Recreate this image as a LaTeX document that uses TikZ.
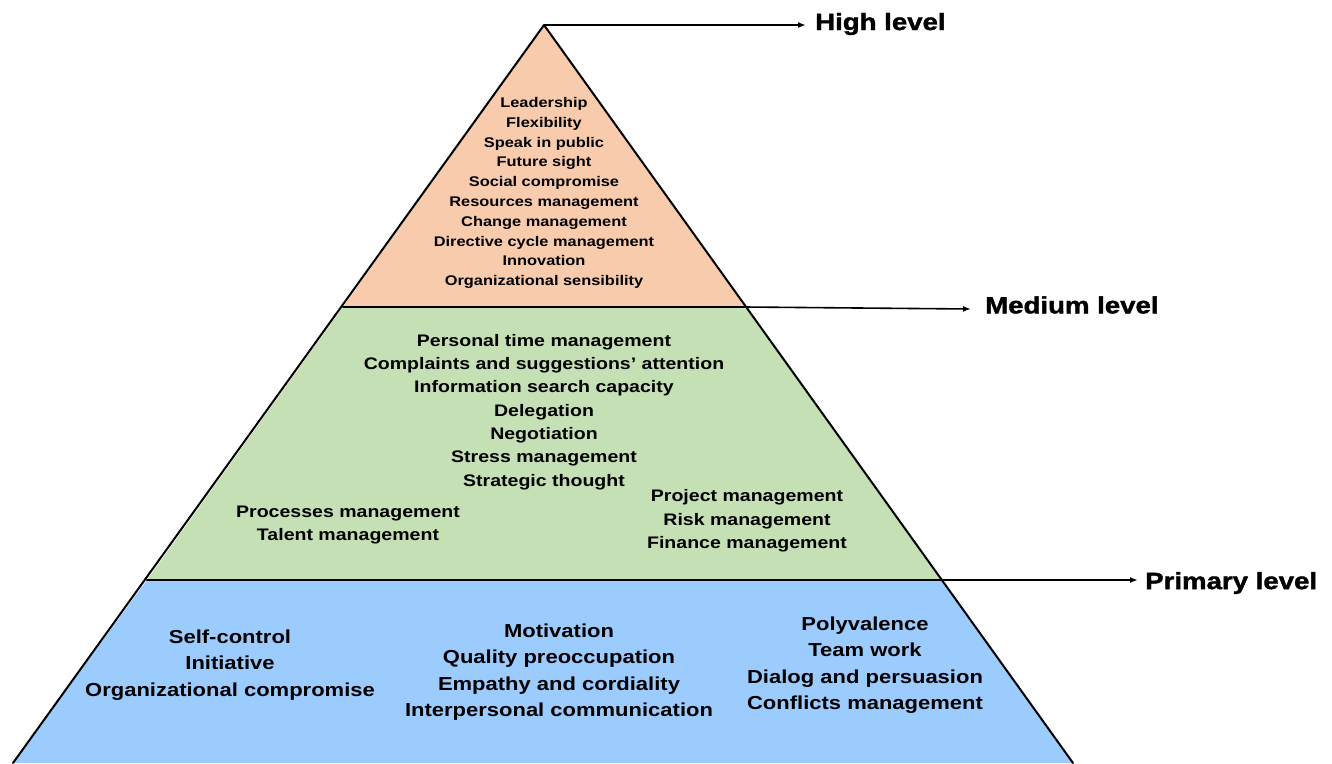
\documentclass[tikz,border=0pt]{standalone}
\usepackage{fontspec}
\setmainfont{Liberation Sans}[FakeStretch=1.17]
\newfontfamily\heavyfont{Liberation Sans Bold}[FakeStretch=1.175,FakeBold=1.6]
\usetikzlibrary{arrows.meta}
\definecolor{peach}{HTML}{F8CBAD}
\definecolor{leaf}{HTML}{C5E0B4}
\definecolor{sky}{HTML}{9CCBFD}
\begin{document}
\begin{tikzpicture}[x=1pt,y=-1pt,
  txt/.style 2 args={font=\bfseries\fontsize{#1}{#2}\selectfont, align=center, inner sep=0pt},
  lvl/.style={font=\heavyfont\fontsize{23.5}{28}\selectfont, anchor=west, inner sep=0pt},
  edge/.style={line width=2pt, line cap=round, line join=round},
  pointer/.style={line width=1.6pt, -{Latex[length=8pt,width=6pt]}}]
\useasboundingbox (0,0) rectangle (1332,763);
% key points
\coordinate (apex) at (544,25);
\coordinate (ml) at (343,307);
\coordinate (mr) at (745,307);
\coordinate (pl) at (147,580);
\coordinate (pr) at (942,580);
\coordinate (bl) at (13,763);
\coordinate (br) at (1073,763);
% fills
\fill[peach] (apex) -- (mr) -- (ml) -- cycle;
\fill[leaf] (ml) -- (mr) -- (pr) -- (pl) -- cycle;
\fill[sky] (pl) -- (pr) -- (br) -- (bl) -- cycle;
% outline
\draw[edge] (bl) -- (apex) -- (br);
\draw[edge, line width=2.4pt] (ml) -- (mr);
\draw[edge, line width=2.4pt] (pl) -- (pr);
% level labels
\node[lvl] (hl) at (815,24) {High level};
\node[lvl] (mlab) at (985,305) {Medium level};
\node[lvl] (plab) at (1145,583) {Primary level};
\coordinate (hend) at (806,25);
\coordinate (mend) at (971,309);
\coordinate (pend) at (1138,580);
\draw[pointer] (apex) -- (hend);
\draw[pointer] (mr) -- (mend);
\draw[pointer] (pr) -- (pend);
% top
\node[txt={14}{19.8}] (top) at (544,193) {Leadership\\Flexibility\\Speak in public\\Future sight\\Social compromise\\Resources management\\Change management\\Directive cycle management\\Innovation\\Organizational sensibility};
% middle
\node[txt={16.7}{23.3}] (mid) at (544,412) {Personal time management\\Complaints and suggestions’ attention\\Information search capacity\\Delegation\\Negotiation\\Stress management\\Strategic thought};
\node[txt={16.7}{23.6}] (midl) at (348,525) {Processes management\\Talent management};
\node[txt={16.7}{23.6}] (midr) at (747,521) {Project management\\Risk management\\Finance management};
% bottom
\node[txt={18.8}{26.4}] (botl) at (230,665) {Self-control\\Initiative\\Organizational compromise};
\node[txt={18.8}{26.4}] (botm) at (559,672) {Motivation\\Quality preoccupation\\Empathy and cordiality\\Interpersonal communication};
\node[txt={18.8}{26.4}] (botr) at (865,665) {Polyvalence\\Team work\\Dialog and persuasion\\Conflicts management};
\end{tikzpicture}
\end{document}
